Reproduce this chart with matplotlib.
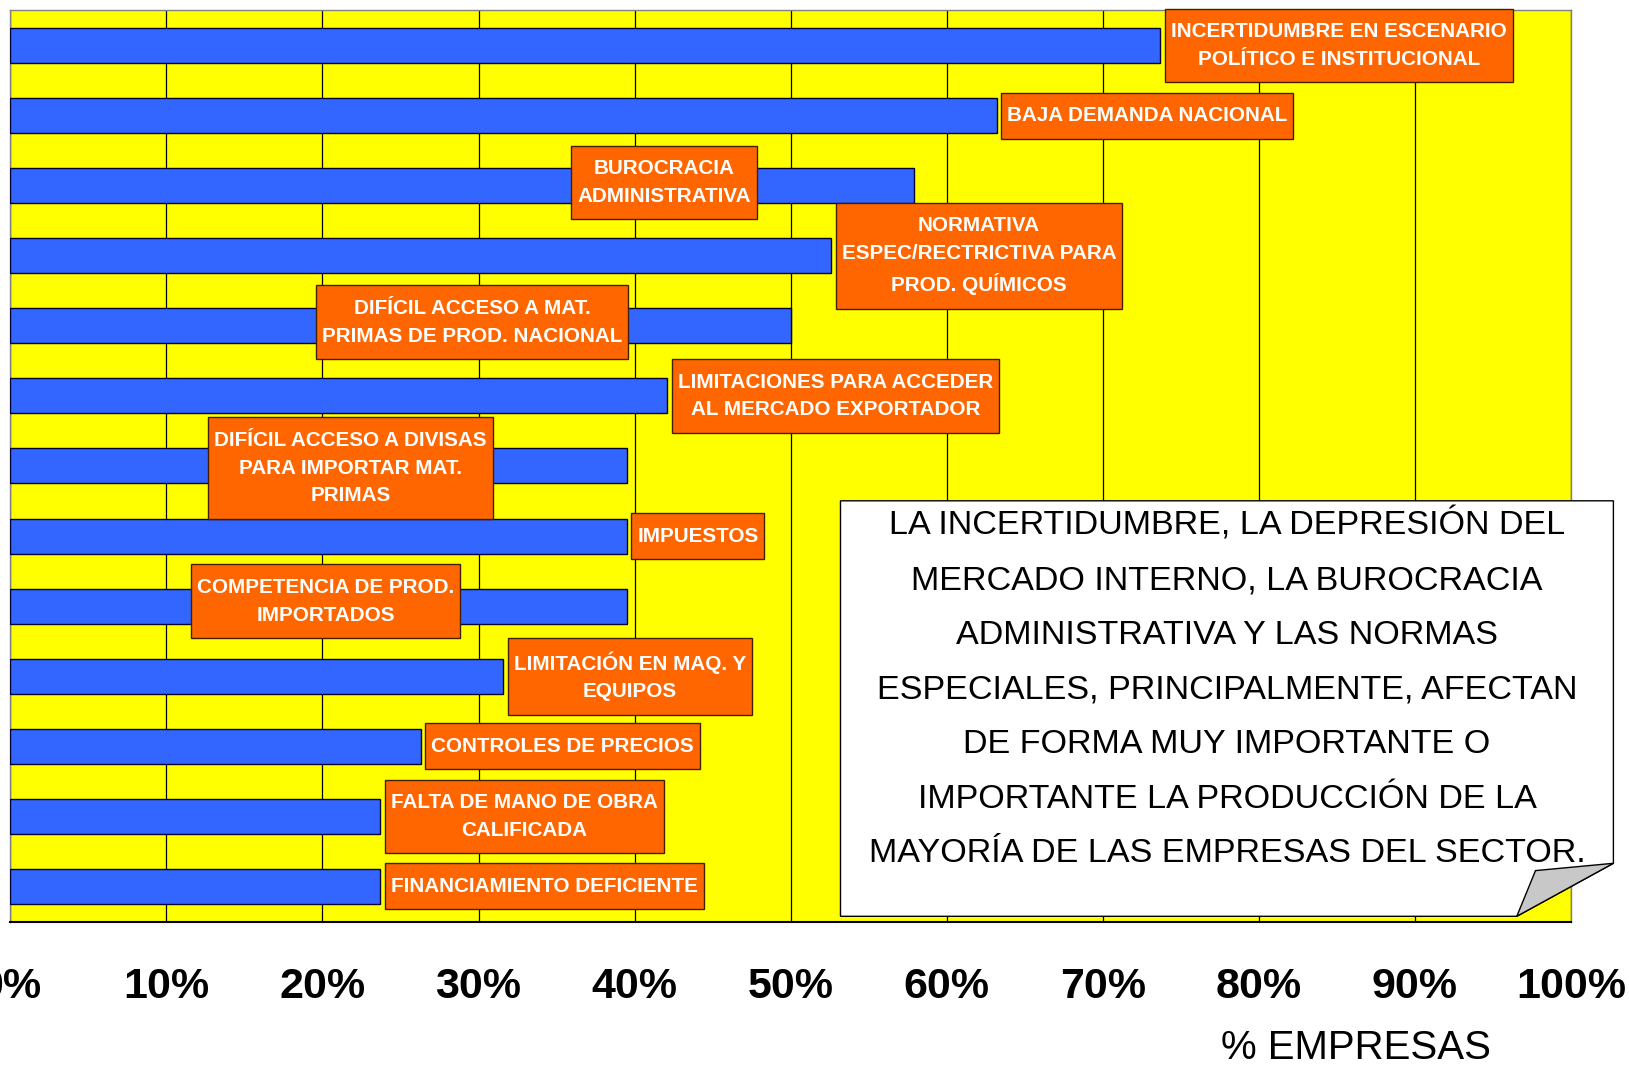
import matplotlib.pyplot as plt
from matplotlib.ticker import PercentFormatter
from matplotlib.patches import Polygon, Rectangle

# datos
factores = [
    "INCERTIDUMBRE EN ESCENARIO\nPOLÍTICO E INSTITUCIONAL",
    "BAJA DEMANDA NACIONAL",
    "BUROCRACIA\nADMINISTRATIVA",
    "NORMATIVA\nESPEC/RECTRICTIVA PARA\nPROD. QUÍMICOS",
    "DIFÍCIL ACCESO A MAT.\nPRIMAS DE PROD. NACIONAL",
    "LIMITACIONES PARA ACCEDER\nAL MERCADO EXPORTADOR",
    "DIFÍCIL ACCESO A DIVISAS\nPARA IMPORTAR MAT.\nPRIMAS",
    "IMPUESTOS",
    "COMPETENCIA DE PROD.\nIMPORTADOS",
    "LIMITACIÓN EN MAQ. Y\nEQUIPOS",
    "CONTROLES DE PRECIOS",
    "FALTA DE MANO DE OBRA\nCALIFICADA",
    "FINANCIAMIENTO DEFICIENTE",
]
pct_empresas = [0.737, 0.632, 0.579, 0.526, 0.500, 0.421, 0.395,
                0.395, 0.395, 0.316, 0.263, 0.237, 0.237]
marcas_x = [0.0, 0.1, 0.2, 0.3, 0.4, 0.5, 0.6, 0.7, 0.8, 0.9, 1.0]

# etiquetas movidas a mano (centro en x); None = pegada al final de la barra
centro_etiqueta = [None, None, 0.419, None, 0.296, None, 0.218,
                   None, 0.202, None, None, None, None]
desplaz_y = [0, 0, -0.045, 0, -0.05, 0, 0.03, 0, -0.07, 0, 0, 0, 0]

nota = ("LA INCERTIDUMBRE, LA DEPRESIÓN DEL\n"
        "MERCADO INTERNO, LA BUROCRACIA\n"
        "ADMINISTRATIVA Y LAS NORMAS\n"
        "ESPECIALES, PRINCIPALMENTE, AFECTAN\n"
        "DE FORMA MUY IMPORTANTE O\n"
        "IMPORTANTE LA PRODUCCIÓN DE LA\n"
        "MAYORÍA DE LAS EMPRESAS DEL SECTOR.")

FUENTE = ["Liberation Sans", "DejaVu Sans"]
W, H = 1629, 1065

fig = plt.figure(figsize=(W / 100, H / 100), dpi=100)
ax = fig.add_axes([10.4 / W, 1 - 921.5 / H, (1570.8 - 10.4) / W, (921.5 - 10.4) / H])
ax.set_facecolor("#FFFF00")

pos = range(len(factores))
ax.barh(pos, pct_empresas, height=0.5, color="#3366FF",
        edgecolor="#000033", linewidth=1.0, zorder=3)

ax.set_xlim(0, 1)
ax.set_ylim(len(factores) - 0.5, -0.5)
ax.set_xticks(marcas_x)
ax.xaxis.set_major_formatter(PercentFormatter(1.0, decimals=0))
ax.set_yticks([])
ax.grid(axis="x", color="black", linewidth=0.9, zorder=1)
ax.set_axisbelow(True)
ax.tick_params(axis="x", length=0, pad=33)
for lab in ax.get_xticklabels():
    lab.set_family(FUENTE)
    lab.set_fontweight("bold")
    lab.set_fontsize(31)

for lado in ["left", "top", "right"]:
    ax.spines[lado].set_color("#808080")
    ax.spines[lado].set_linewidth(1.0)
ax.spines["bottom"].set_color("black")
ax.spines["bottom"].set_linewidth(1.5)

# etiquetas de cada barra
textos = []
for i, (txt, v) in enumerate(zip(factores, pct_empresas)):
    estilo = dict(va="center", multialignment="center", color="white",
                  fontsize=14.9, fontweight="bold", family=FUENTE,
                  linespacing=1.58, zorder=6)
    if centro_etiqueta[i] is None:
        t = ax.annotate(txt, xy=(v, i + desplaz_y[i]), xytext=(7.5, 0),
                        textcoords="offset points", ha="left",
                        annotation_clip=False, **estilo)
    else:
        t = ax.text(centro_etiqueta[i], i + desplaz_y[i], txt, ha="center", **estilo)
    textos.append(t)

# cajas naranjas alrededor de las etiquetas (más margen arriba/abajo que a los lados)
fig.canvas.draw()
rend = fig.canvas.get_renderer()
inv = ax.transData.inverted()
pad_x, pad_y = 6, 13.5
for t in textos:
    bb = t.get_window_extent(rend)
    (x0, y0) = inv.transform((bb.x0 - pad_x, bb.y0 - pad_y))
    (x1, y1) = inv.transform((bb.x1 + pad_x, bb.y1 + pad_y))
    ax.add_patch(Rectangle((x0, y0), x1 - x0, y1 - y0, facecolor="#FF6600",
                           edgecolor="#402000", linewidth=1.0, zorder=5,
                           clip_on=False))

# cuadro de texto con esquina doblada
def fx(px):
    return px / W

def fy(py):
    return 1 - py / H

hoja = Polygon([(fx(840.5), fy(500.8)), (fx(1613.4), fy(500.8)),
                (fx(1613.4), fy(863.3)), (fx(1516.8), fy(916.3)),
                (fx(840.5), fy(916.3))], closed=True,
               facecolor="white", edgecolor="black", linewidth=1.0,
               transform=fig.transFigure, zorder=10)
doblez = Polygon([(fx(1516.8), fy(916.3)), (fx(1613.4), fy(863.3)),
                  (fx(1535.5), fy(870.6))], closed=True,
                 facecolor="#C8C8C8", edgecolor="black", linewidth=1.0,
                 transform=fig.transFigure, zorder=11)
fig.patches.extend([hoja, doblez])
fig.text(fx(1227), fy(688.5), nota, ha="center", va="center",
         multialignment="center", fontsize=24.6, family=FUENTE,
         linespacing=1.98, zorder=12)

fig.text(fx(1356), fy(1048), "% EMPRESAS", ha="center", va="center",
         fontsize=29, family=FUENTE)

fig.savefig("out.png", dpi=100)
